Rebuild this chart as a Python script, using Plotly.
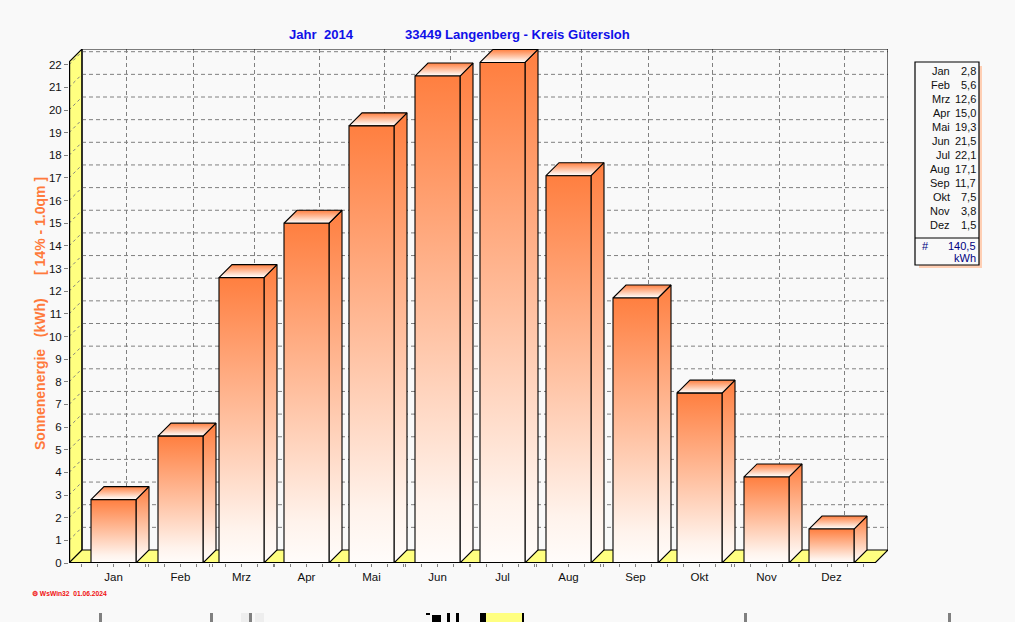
import plotly.graph_objects as go

months = ["Jan", "Feb", "Mrz", "Apr", "Mai", "Jun", "Jul", "Aug", "Sep", "Okt", "Nov", "Dez"]
values = [2.8, 5.6, 12.6, 15.0, 19.3, 21.5, 22.1, 17.1, 11.7, 7.5, 3.8, 1.5]
value_labels = ["2,8", "5,6", "12,6", "15,0", "19,3", "21,5", "22,1", "17,1", "11,7", "7,5", "3,8", "1,5"]
total_label = "140,5"
unit_label = "kWh"
y_ticks = list(range(0, 23))
# category centres along the x axis (axis unit = 1 screen pixel)
centres = [113.5, 180.5, 241.5, 306.5, 371.5, 437.5, 502.5, 568.5, 635.5, 699.5, 766.5, 831.5]

W, H = 1015, 622
L, R, T, B = 69, 888, 49, 563
PX_PER_UNIT = 22.65
DEPTH = 13
BAR_W = 45
YMAX = (B - T) / PX_PER_UNIT
DY = DEPTH / PX_PER_UNIT
FRONT_R = R - DEPTH

BG = "#f9f9f9"
YELLOW = "#ffff80"
GRID = "#808080"
ORANGE = "#ff7f40"
ORANGE_TXT = "#ff7a3c"
BLUE = "#1010e8"
NAVY = "#000080"
FONT = "Liberation Sans"
GRAD = [[0, "#fffcfa"], [0.12, "#fff3ec"], [0.5, "#ffc0a0"], [1, ORANGE]]


def px(x):
    return (x - L) / (R - L)


def py(y):
    return (B - y) / (B - T)


fig = go.Figure()


def line(xs, ys, color="black", width=1.0, dash=None):
    fig.add_trace(go.Scatter(x=xs, y=ys, mode="lines", showlegend=False, hoverinfo="skip",
                             line=dict(color=color, width=width, dash=dash), cliponaxis=False))


def poly(xs, ys, fill=None, grad=None, width=1.1):
    kw = dict(fillcolor=fill) if fill else dict(fillgradient=dict(type="vertical", colorscale=grad))
    fig.add_trace(go.Scatter(x=xs + xs[:1], y=ys + ys[:1], mode="lines", fill="toself",
                             showlegend=False, hoverinfo="skip", cliponaxis=False,
                             line=dict(color="black", width=width), **kw))


# left wall and floor
poly([L, L + DEPTH, L + DEPTH, L], [0, DY, YMAX, YMAX - DY], fill=YELLOW, width=1.1)
poly([L, L + DEPTH, R, FRONT_R], [0, DY, DY, 0], fill=YELLOW, width=1.1)

# back wall grid
dash = "4px,3px"
for v in y_ticks[1:]:
    line([L + DEPTH, R], [v + DY, v + DY], GRID, 1, dash)
    line([L, L + DEPTH], [v, v + DY], GRID, 1, "3px,3px")
for c in centres:
    line([c + DEPTH, c + DEPTH], [DY, YMAX], GRID, 1, dash)

# back wall frame
line([L + DEPTH, R, R], [YMAX, YMAX, DY], "black", 1.1)
line([L + DEPTH, L + DEPTH], [DY, YMAX], "black", 1.1)

# bars
for c, v in zip(centres, values):
    x0, x1 = c - BAR_W / 2, c + BAR_W / 2
    poly([x1, x1 + DEPTH, x1 + DEPTH, x1], [0, DY, v + DY, v], grad=GRAD)
    poly([x0, x1, x1 + DEPTH, x0 + DEPTH], [v, v, v + DY, v + DY], grad=GRAD)
    poly([x0, x1, x1, x0], [0, 0, v, v], grad=GRAD)

# front axis lines
line([L, L], [0, YMAX - DY], "black", 2.4)
line([L, FRONT_R], [0, 0], "black", 2.2)

shapes = []


def rect(x0, y0, x1, y1, fill, color=None, width=0):
    shapes.append(dict(type="rect", xref="paper", yref="paper", x0=px(x0), x1=px(x1), y0=py(y0), y1=py(y1),
                       fillcolor=fill, line=dict(color=color or fill, width=width), layer="above"))


# value box with soft shadow
rect(919, 66, 982, 268, "#ffcfb4")
rect(915, 62, 979, 265, BG, "black", 1.2)
shapes.append(dict(type="line", xref="paper", yref="paper", x0=px(915), x1=px(979), y0=py(238), y1=py(238),
                   line=dict(color="black", width=1), layer="above"))

# strip of the next picture, cut by the bottom edge
for x0, x1, col in [(99, 102, GRID), (210, 213, GRID), (241, 249, "#eeeeee"), (249, 252, GRID), (255, 264, "#eeeeee"),
                    (744, 747, GRID), (948, 951, GRID)]:
    rect(x0, 613, x1, 622, col)
rect(481, 613, 524, 622, YELLOW)
rect(480, 613, 486, 622, "black")
rect(522, 613, 524, 622, "black")
rect(426, 613, 430, 615, "black")
rect(432, 615, 441, 622, "black")
rect(447, 613, 450, 622, "black")
rect(456, 613, 459, 622, "black")

ann = []


def text(x, y, s, color="black", size=11, bold=False, anchor="left", angle=0):
    ann.append(dict(xref="paper", yref="paper", x=px(x), y=py(y), text=f"<b>{s}</b>" if bold else s,
                    showarrow=False, xanchor=anchor, yanchor="middle", textangle=angle,
                    font=dict(family=FONT, size=size, color=color)))


text(287, 34, "Jahr&nbsp;&nbsp;2014", BLUE, 13.1, True)
text(403, 34, "33449 Langenberg - Kreis Gütersloh", BLUE, 13.1, True)
text(40, 314, "Sonnenenergie&nbsp;&nbsp;&nbsp;(kWh)&nbsp;&nbsp;&nbsp;&nbsp;&nbsp;&nbsp;[ 14% - 1.0qm ]", ORANGE_TXT, 14, True,
     anchor="center", angle=-90)
text(30, 593, "⚙ WsWin32&nbsp;&nbsp;01.06.2024", "#f01010", 6.7, True)

for i, (m, v) in enumerate(zip(months, value_labels)):
    rowy = 71 + i * 14
    text(952, rowy, m, "#101010", 11, anchor="right")
    text(977.5, rowy, v, "#101010", 11, anchor="right")
text(920, 246, "#", NAVY, 11)
text(977.5, 246, total_label, NAVY, 11, anchor="right")
text(977.5, 258, unit_label, NAVY, 11, anchor="right")

minor = [c + d for c in centres for d in (-32, -16, 16, 32) if c + d < FRONT_R]

fig.update_layout(
    width=W, height=H, autosize=False,
    margin=dict(l=L, r=W - R, t=T, b=H - B, pad=0),
    paper_bgcolor=BG, plot_bgcolor=BG,
    showlegend=False, shapes=shapes, annotations=ann,
    font=dict(family=FONT, size=11.5, color="#101010"),
    xaxis=dict(range=[L, R], showgrid=False, zeroline=False, showline=False,
               tickmode="array", tickvals=centres, ticktext=months,
               ticks="outside", ticklen=3, tickwidth=1, tickcolor=GRID,
               tickfont=dict(family=FONT, size=11.5, color="#101010"),
               minor=dict(tickmode="array", tickvals=minor, ticks="outside", ticklen=3, tickwidth=1,
                          tickcolor=GRID, showgrid=False)),
    yaxis=dict(range=[0, YMAX], showgrid=False, zeroline=False, showline=False,
               tickmode="array", tickvals=y_ticks, ticktext=[str(t) for t in y_ticks],
               ticks="outside", ticklen=4, tickwidth=1, tickcolor=GRID,
               tickfont=dict(family=FONT, size=11.5, color="#101010")),
)

fig.write_html("out.html", config={"displayModeBar": False},
               post_script="document.body.style.margin='0';document.body.style.overflow='hidden';document.body.style.background='" + BG + "';")
